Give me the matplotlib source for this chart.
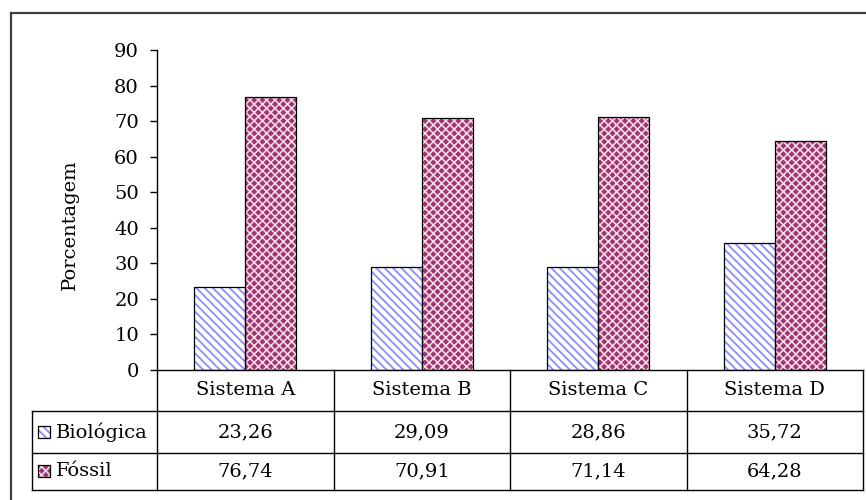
import matplotlib.pyplot as plt
from matplotlib.lines import Line2D
from matplotlib.patches import Rectangle

sistemas = ['Sistema A', 'Sistema B', 'Sistema C', 'Sistema D']
biologica = [23.26, 29.09, 28.86, 35.72]
fossil = [76.74, 70.91, 71.14, 64.28]
series_names = ['Biológica', 'Fóssil']
yticks = list(range(0, 91, 10))

plt.rcParams['font.family'] = ['DejaVu Serif']

W, H = 866, 500
fig = plt.figure(figsize=(W / 100, H / 100), dpi=100)
ax = fig.add_axes([157 / W, 130 / H, 706 / W, 320 / H])

bio_style = dict(facecolor='white', edgecolor='#8c8cff', hatch='\\\\\\\\')
fos_style = dict(facecolor='#a03570', edgecolor='#f6dcea', hatch='xxxx')
hatch_lw = [1.3, 1.15]

x = list(range(len(sistemas)))
w = 0.29
xb = [i - w / 2 for i in x]
xf = [i + w / 2 for i in x]

# hatched fill first, then black outline on top
with plt.rc_context({'hatch.linewidth': hatch_lw[0]}):
    ax.bar(xb, biologica, w, linewidth=0, **bio_style)
with plt.rc_context({'hatch.linewidth': hatch_lw[1]}):
    ax.bar(xf, fossil, w, linewidth=0, **fos_style)
ax.bar(xb, biologica, w, fill=False, edgecolor='black', linewidth=0.9)
ax.bar(xf, fossil, w, fill=False, edgecolor='black', linewidth=0.9)

ax.set_xlim(-0.5, len(sistemas) - 0.5)
ax.set_ylim(0, 90)
ax.set_yticks(yticks)
ax.set_xticks([])
ax.tick_params(axis='y', length=5, width=1, pad=8, labelsize=14)
for s in ['top', 'right']:
    ax.spines[s].set_visible(False)
ax.spines['left'].set_linewidth(1)
ax.spines['bottom'].set_linewidth(1)
ax.set_ylabel('Porcentagem', fontsize=14)
ax.yaxis.set_label_coords((79 - 157) / 706, 0.453)

# data table under the plot (axes coordinates)
fs = 14
tr = ax.transAxes
x_left = -125 / 706
col_edges = [i / len(sistemas) for i in range(len(sistemas) + 1)]
row_edges = [0, -0.128, -0.259, -0.375]
lk = dict(transform=tr, clip_on=False, color='black', linewidth=1)

for y in row_edges[1:]:
    ax.add_line(Line2D([x_left, 1], [y, y], **lk))
ax.add_line(Line2D([x_left, x_left], [row_edges[1], row_edges[-1]], **lk))
for xe in col_edges:
    ax.add_line(Line2D([xe, xe], [0, row_edges[-1]], **lk))

for i, name in enumerate(sistemas):
    xc = (col_edges[i] + col_edges[i + 1]) / 2
    ax.text(xc, (row_edges[0] + row_edges[1]) / 2, name, transform=tr,
            ha='center', va='center', fontsize=fs)
    for r, vals in enumerate([biologica, fossil]):
        yc = (row_edges[r + 1] + row_edges[r + 2]) / 2
        ax.text(xc, yc, f'{vals[i]:.2f}'.replace('.', ','), transform=tr,
                ha='center', va='center', fontsize=fs)

for r, (name, st) in enumerate(zip(series_names, [bio_style, fos_style])):
    yc = (row_edges[r + 1] + row_edges[r + 2]) / 2
    kw, kh = 12 / 706, 12 / 320
    with plt.rc_context({'hatch.linewidth': hatch_lw[r]}):
        ax.add_patch(Rectangle((-119 / 706, yc - kh / 2), kw, kh,
                               transform=tr, clip_on=False, linewidth=0,
                               **st))
    ax.add_patch(Rectangle((-119 / 706, yc - kh / 2), kw, kh, transform=tr,
                           clip_on=False, fill=False, edgecolor='black',
                           linewidth=0.9))
    ax.text(-101 / 706, yc, name, transform=tr, ha='left', va='center',
            fontsize=fs)

# outer chart frame
fk = dict(color='#404040', linewidth=1.6)
fig.add_artist(Line2D([11 / W, 11 / W], [0, 1 - 13 / H], **fk))
fig.add_artist(Line2D([11 / W, 1], [1 - 13 / H, 1 - 13 / H], **fk))

fig.savefig('out.png', dpi=100)
